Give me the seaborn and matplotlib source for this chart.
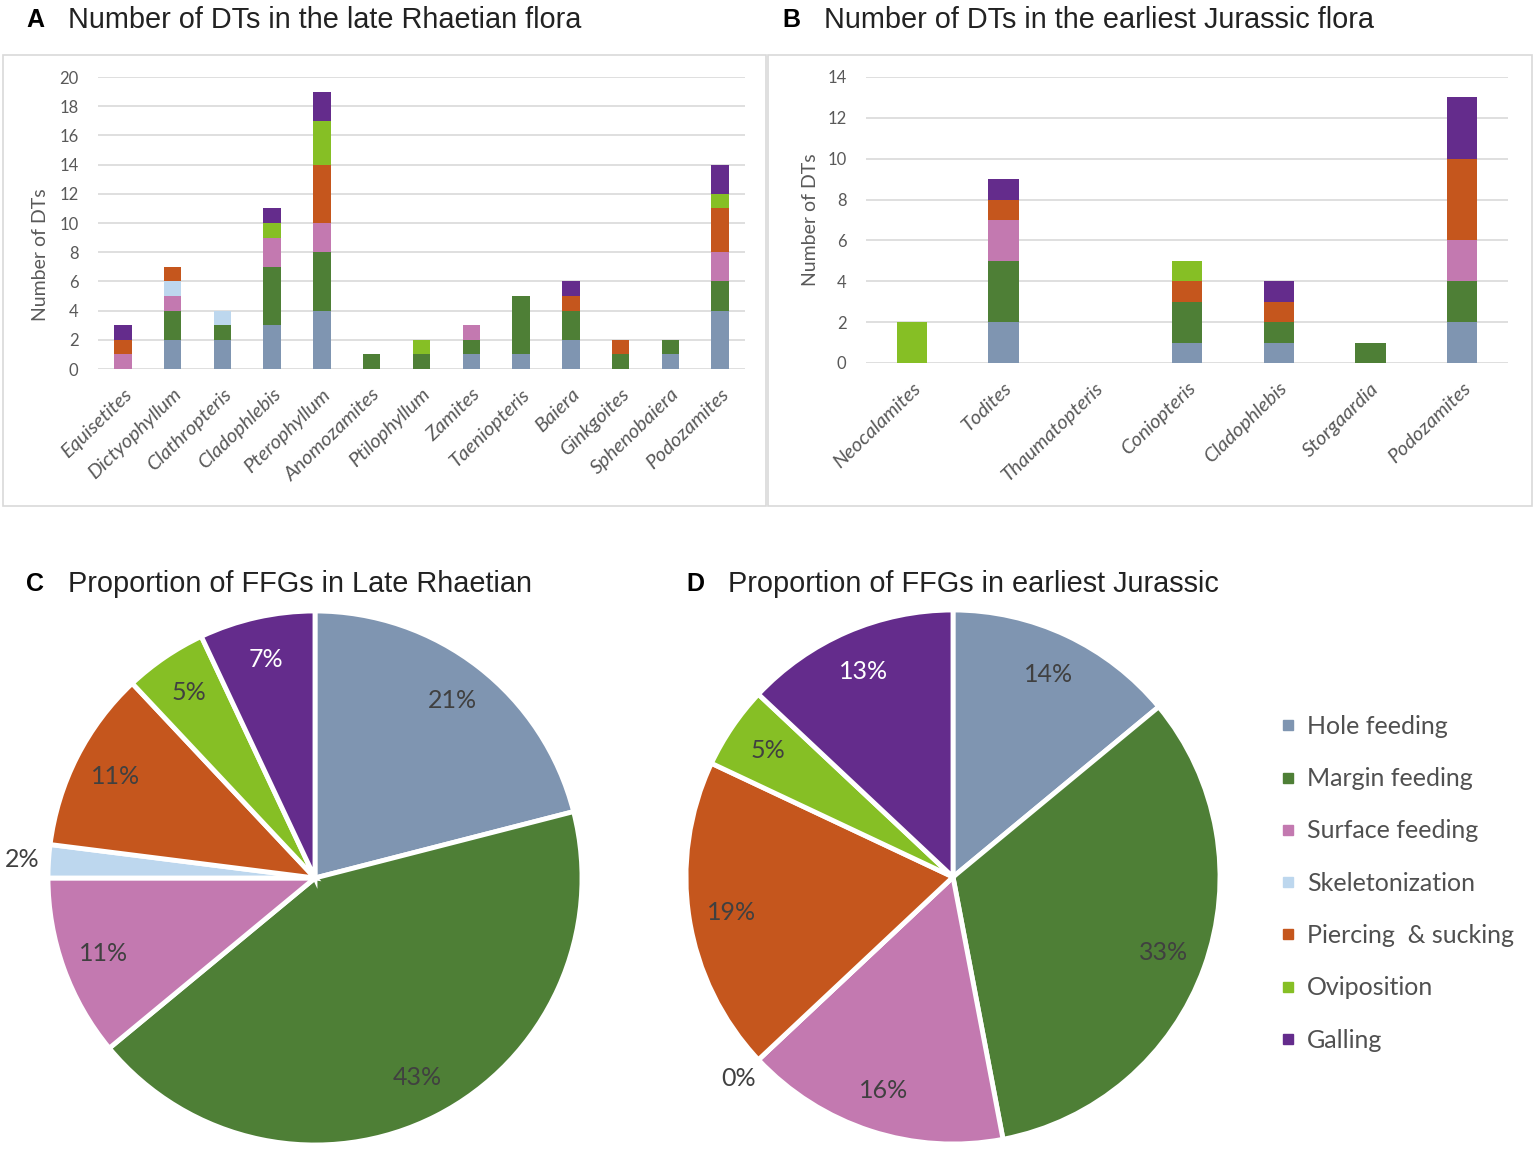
import matplotlib
matplotlib.use("Agg")
import matplotlib.pyplot as plt
from matplotlib.patches import Rectangle
from matplotlib.lines import Line2D
import seaborn as sns
import pandas as pd
import numpy as np

# ---------------- data ----------------
groups = ["Hole feeding", "Margin feeding", "Surface feeding", "Skeletonization",
          "Piercing  & sucking", "Oviposition", "Galling"]
colors = ["#7F95B1", "#4E7F36", "#C379B0", "#BDD7EE", "#C5561D", "#86BF25", "#642C8C"]

taxa_a = ["Equisetites", "Dictyophyllum", "Clathropteris", "Cladophlebis", "Pterophyllum",
          "Anomozamites", "Ptilophyllum", "Zamites", "Taeniopteris", "Baiera",
          "Ginkgoites", "Sphenobaiera", "Podozamites"]
hole_a = [0, 2, 2, 3, 4, 0, 0, 1, 1, 2, 0, 1, 4]
margin_a = [0, 2, 1, 4, 4, 1, 1, 1, 4, 2, 1, 1, 2]
surface_a = [1, 1, 0, 2, 2, 0, 0, 1, 0, 0, 0, 0, 2]
skeleton_a = [0, 1, 1, 0, 0, 0, 0, 0, 0, 0, 0, 0, 0]
piercing_a = [1, 1, 0, 0, 4, 0, 0, 0, 0, 1, 1, 0, 3]
ovipos_a = [0, 0, 0, 1, 3, 0, 1, 0, 0, 0, 0, 0, 1]
galling_a = [1, 0, 0, 1, 2, 0, 0, 0, 0, 1, 0, 0, 2]

taxa_b = ["Neocalamites", "Todites", "Thaumatopteris", "Coniopteris", "Cladophlebis",
          "Storgaardia", "Podozamites"]
hole_b = [0, 2, 0, 1, 1, 0, 2]
margin_b = [0, 3, 0, 2, 1, 1, 2]
surface_b = [0, 2, 0, 0, 0, 0, 2]
skeleton_b = [0, 0, 0, 0, 0, 0, 0]
piercing_b = [0, 1, 0, 1, 1, 0, 4]
ovipos_b = [2, 0, 0, 1, 0, 0, 0]
galling_b = [0, 1, 0, 0, 1, 0, 3]

pct_c = [21, 43, 11, 2, 11, 5, 7]
pct_d = [14, 33, 16, 0, 19, 5, 13]

# ---------------- figure ----------------
W, H = 1535, 1151
sns.set_theme(style="white")
plt.rcParams["font.family"] = ["Lato", "DejaVu Sans"]
fig = plt.figure(figsize=(W / 100, H / 100), dpi=100)

def px_axes(x0, y0, x1, y1):
    return fig.add_axes([x0 / W, 1 - y1 / H, (x1 - x0) / W, (y1 - y0) / H])

# panel frames
for (x0, y0, x1, y1) in [(3, 55, 766, 506), (768, 55, 1532, 506)]:
    fig.patches.append(Rectangle((x0 / W, 1 - y1 / H), (x1 - x0) / W, (y1 - y0) / H,
                                 transform=fig.transFigure, fill=False,
                                 edgecolor="#D9D9D9", linewidth=1.2))

tick_col = "#595959"

def stacked(ax, taxa, layers, ymax, width, ylab_xy):
    df = pd.DataFrame({"taxon": taxa})
    cum = np.zeros(len(taxa))
    cums = []
    for lay in layers:
        cum = cum + np.array(lay, dtype=float)
        cums.append(cum.copy())
    # draw from top layer to bottom so lower layers overpaint
    for i in range(len(layers) - 1, -1, -1):
        df["v"] = cums[i]
        sns.barplot(data=df, x="taxon", y="v", order=taxa, color=colors[i],
                    width=width, saturation=1, ax=ax, linewidth=0, edgecolor="none")
    ax.set_ylim(0, ymax)
    ax.set_yticks(range(0, ymax + 1, 2))
    ax.yaxis.grid(True, color="#D9D9D9", linewidth=1.2)
    ax.set_axisbelow(True)
    for s in ax.spines.values():
        s.set_visible(False)
    ax.set_xlabel("")
    ax.set_ylabel("Number of DTs", fontsize=14, color=tick_col)
    ax.yaxis.set_label_coords(*ylab_xy)
    ax.tick_params(axis="y", labelsize=12, colors=tick_col, length=0, pad=14)
    ax.tick_params(axis="x", length=0, pad=12)
    ax.set_xticks(range(len(taxa)))
    ax.set_xticklabels(taxa, rotation=44, ha="right", rotation_mode="anchor",
                       fontsize=14.5, style="italic", color=tick_col)

axA = px_axes(98, 77, 745, 369)
stacked(axA, taxa_a, [hole_a, margin_a, surface_a, skeleton_a, piercing_a, ovipos_a, galling_a],
        20, 0.35, (-0.076, 0.39))

axB = px_axes(866, 77, 1508, 363)
stacked(axB, taxa_b, [hole_b, margin_b, surface_b, skeleton_b, piercing_b, ovipos_b, galling_b],
        14, 0.33, (-0.073, 0.5))

# titles
title_font = ["Liberation Sans", "DejaVu Sans"]
def title(x, y, letter, text):
    fig.text(x / W, 1 - y / H, letter, fontsize=18, fontweight="bold", family=title_font,
             va="center", ha="left", color="black")
    fig.text((x + 42) / W, 1 - y / H, text, fontsize=20.8, family=title_font,
             va="center", ha="left", color="#222222")

title(26, 20, "A", "Number of DTs in the late Rhaetian flora")
title(782, 20, "B", "Number of DTs in the earliest Jurassic flora")
title(26, 584, "C", "Proportion of FFGs in Late Rhaetian")
title(686, 584, "D", "Proportion of FFGs in earliest Jurassic")

# pies
def pie(ax, vals, outside):
    vals = np.array(vals, dtype=float)
    plot_vals = np.where(vals == 0, 1e-9, vals)
    wedges, _ = ax.pie(plot_vals, colors=colors, startangle=90, counterclock=False,
                       wedgeprops=dict(edgecolor="white", linewidth=3.5))
    total = plot_vals.sum()
    start = 90.0
    for i, v in enumerate(plot_vals):
        ang = start - 360 * (v / total) / 2
        start -= 360 * v / total
        r = 1.10 if i in outside else 0.84
        col = "white" if i == 6 else "#404040"
        if i in outside:
            col = "#404040"
        ax.text(r * np.cos(np.radians(ang)), r * np.sin(np.radians(ang)),
                f"{int(vals[i])}%", ha="center", va="center", fontsize=18, color=col)
    ax.set_xlim(-1, 1)
    ax.set_ylim(-1, 1)
    ax.set_aspect("equal")
    ax.axis("off")

r = 267
axC = px_axes(315 - r, 878 - r, 315 + r, 878 + r)
pie(axC, pct_c, outside=[3])
axD = px_axes(953 - r, 877 - r, 953 + r, 877 + r)
pie(axD, pct_d, outside=[3])

# legend
handles = [Line2D([0], [0], marker="s", linestyle="none", markersize=7.5,
                  markerfacecolor=c, markeredgecolor=c) for c in colors]
leg = fig.legend(handles, groups, loc="upper left", bbox_to_anchor=(1268 / W, 1 - 705 / H),
                 frameon=False, fontsize=18, labelspacing=1.17, handletextpad=0.35,
                 handlelength=0.8, borderaxespad=0)
for t in leg.get_texts():
    t.set_color("#505050")

fig.savefig("out.png", dpi=100)
